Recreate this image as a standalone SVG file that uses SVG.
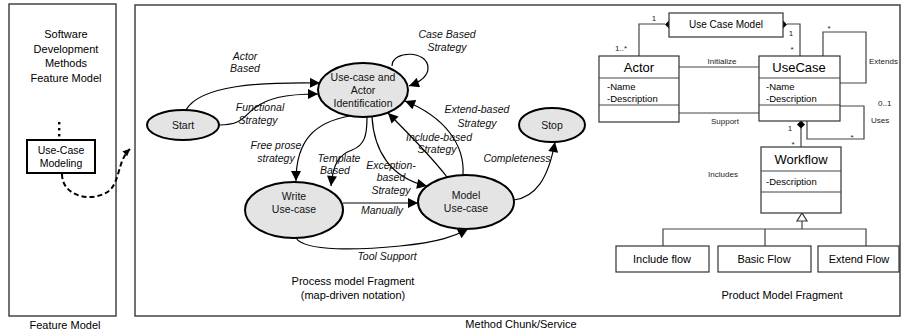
<svg xmlns="http://www.w3.org/2000/svg" width="902" height="333" viewBox="0 0 902 333">
<defs>
<style>
.t{font-family:"Liberation Sans",Arial,sans-serif;fill:#000}
.lbl{font-family:"Liberation Sans",Arial,sans-serif;font-style:italic;font-size:10.5px;fill:#111;text-anchor:middle}
.st{font-family:"Liberation Sans",Arial,sans-serif;font-size:10.5px;fill:#111;text-anchor:middle}
.ell{fill:#e4e4e4;stroke:#000;stroke-width:2}
.con{fill:none;stroke:#000;stroke-width:1.2}
.uml{fill:#fff;stroke:#333;stroke-width:1.2}
.ul{fill:none;stroke:#444;stroke-width:1.2}
.nm{font-family:"Liberation Sans",Arial,sans-serif;font-size:13px;text-anchor:middle;fill:#000}
.at{font-family:"Liberation Sans",Arial,sans-serif;font-size:9.5px;fill:#000}
.sm{font-family:"Liberation Sans",Arial,sans-serif;font-size:8px;fill:#222}
.cap{font-family:"Liberation Sans",Arial,sans-serif;font-size:11px;fill:#000;text-anchor:middle}
</style>
<marker id="arr" viewBox="0 0 10 10" refX="10" refY="5" markerWidth="11" markerHeight="10" orient="auto" markerUnits="userSpaceOnUse"><path d="M0,0 L10,5 L0,10 z" fill="#000"/></marker>
<marker id="arrs" viewBox="0 0 10 10" refX="10" refY="5" markerWidth="8" markerHeight="7" orient="auto" markerUnits="userSpaceOnUse"><path d="M0,0 L10,5 L0,10 z" fill="#000"/></marker>
</defs>
<rect width="902" height="333" fill="#fff"/>

<g id="feature-panel">
<rect x="9" y="4" width="107" height="312" fill="none" stroke="#444" stroke-width="1.5"/>
<text class="cap" x="66" y="38">Software</text>
<text class="cap" x="66" y="53">Development</text>
<text class="cap" x="66" y="67">Methods</text>
<text class="cap" x="66" y="82">Feature Model</text>
<rect x="58" y="122" width="2.4" height="2.4" fill="#000"/>
<rect x="58" y="128" width="2.4" height="2.4" fill="#000"/>
<rect x="58" y="134" width="2.4" height="2.4" fill="#000"/>
<text class="cap" x="65" y="329">Feature Model</text>
</g>
<g id="use-case-modeling">
<rect x="27" y="140" width="68" height="33" fill="#fff" stroke="#000" stroke-width="2"/>
<text class="t" x="61" y="154" font-size="10.5" text-anchor="middle">Use-Case</text>
<text class="t" x="61" y="167" font-size="10.5" text-anchor="middle">Modeling</text>
</g>

<g id="main-panel">
<rect x="135" y="5" width="765" height="311" fill="none" stroke="#444" stroke-width="1.5"/>
<text class="cap" x="521" y="328">Method Chunk/Service</text>
<text class="cap" x="353" y="285">Process model Fragment</text>
<text class="cap" x="353" y="299">(map-driven notation)</text>
<text class="cap" x="782" y="299">Product Model Fragment</text>
</g>

<g id="connectors">
<path d="M62,174 C62,198 95,203 110,190 C120,180 118,160 130,149" fill="none" stroke="#000" stroke-width="2" stroke-dasharray="5,3" marker-end="url(#arrs)"/>
<path class="con" d="M186,110 C200,85 260,82 320,83" marker-end="url(#arr)"/>
<path class="con" d="M219,125 C240,125 243,118 252,110 C266,98 285,94 318,94" marker-end="url(#arr)"/>
<path class="con" d="M392,66 C392,50 428,50 428,68 C428,76 420,82 409,86" marker-end="url(#arr)"/>
<path class="con" d="M350,116 C315,122 296,140 296,181" marker-end="url(#arr)"/>
<path class="con" d="M367,117 C367,135 365,145 352,150 C338,155 333,165 331,186" marker-end="url(#arr)"/>
<path class="con" d="M372,117 C374,150 390,178 427,186" marker-end="url(#arr)"/>
<path class="con" d="M447,177 C430,155 405,130 388,113" marker-end="url(#arr)"/>
<path class="con" d="M463,175 C465,145 445,117 405,101" marker-end="url(#arr)"/>
<path class="con" d="M343,203 L418,203" marker-end="url(#arr)"/>
<path class="con" d="M296,238 C305,252 360,250 400,246 C440,242 455,236 468,229" marker-end="url(#arr)"/>
<path class="con" d="M514,200 C535,197 548,180 555,142" marker-end="url(#arr)"/>

<text class="lbl" x="245" y="60">Actor</text>
<text class="lbl" x="245" y="72">Based</text>
<text class="lbl" x="260" y="111">Functional</text>
<text class="lbl" x="258" y="124">Strategy</text>
<text class="lbl" x="447" y="38">Case Based</text>
<text class="lbl" x="447" y="51">Strategy</text>
<text class="lbl" x="276" y="149">Free prose</text>
<text class="lbl" x="276" y="162">strategy</text>
<text class="lbl" x="339" y="162">Template</text>
<text class="lbl" x="335" y="174">Based</text>
<text class="lbl" x="391" y="169">Exception-</text>
<text class="lbl" x="391" y="181">based</text>
<text class="lbl" x="391" y="194">Strategy</text>
<text class="lbl" x="439" y="141">Include-based</text>
<text class="lbl" x="437" y="153">Strategy</text>
<text class="lbl" x="477" y="113">Extend-based</text>
<text class="lbl" x="477" y="127">Strategy</text>
<text class="lbl" x="517" y="162">Completeness</text>
<text class="lbl" x="382" y="214">Manually</text>
<text class="lbl" x="387" y="260">Tool Support</text>

<path class="ul" d="M665,24 H639 V56"/>
<path class="ul" d="M787,24 H800 V56"/>
<path d="M665,24.5 L669,20.5 L673,24.5 L669,28.5 z" fill="#000"/>
<path d="M779,24.5 L783,20.5 L787,24.5 L783,28.5 z" fill="#000"/>
<path class="ul" d="M823,56 V32 H866 V83 H840"/>
<path class="ul" d="M840,106 H864 V139 H807 V121"/>
<path class="ul" d="M801,128 V147"/>
<path d="M797,124.5 L801,120.5 L805,124.5 L801,128.5 z" fill="#000"/>
<path class="ul" d="M679,67 H759"/>
<path class="ul" d="M679,113 H759"/>
<path d="M802,213 L797,221 L807,221 z" fill="#fff" stroke="#333" stroke-width="1.2"/>
<path class="ul" d="M802,221 V229 M663,246 V229 H866 V246 M765,229 V246"/>

<text class="sm" x="654" y="21" text-anchor="middle">1</text>
<text class="sm" x="621" y="51" text-anchor="middle">1..*</text>
<text class="sm" x="791" y="36" text-anchor="middle">1</text>
<text class="sm" x="792" y="52" text-anchor="middle">*</text>
<text class="sm" x="829" y="31" text-anchor="middle">*</text>
<text class="sm" x="869" y="64" font-size="7.5">Extends</text>
<text class="sm" x="878" y="106">0..1</text>
<text class="sm" x="871" y="123">Uses</text>
<text class="sm" x="852" y="140" text-anchor="middle">*</text>
<text class="sm" x="790" y="131" text-anchor="middle">1</text>
<text class="sm" x="793" y="147" text-anchor="middle">*</text>
<text class="sm" x="722" y="64" text-anchor="middle">Initialize</text>
<text class="sm" x="725" y="124" text-anchor="middle">Support</text>
<text class="sm" x="723" y="177" text-anchor="middle">Includes</text>
</g>

<g id="start"><ellipse class="ell" cx="183" cy="125" rx="36" ry="15"/><text class="st" x="183" y="129" font-size="11.5">Start</text></g>
<g id="identification"><ellipse class="ell" cx="363" cy="90" rx="45" ry="27"/>
<text class="st" x="363" y="81">Use-case and</text><text class="st" x="363" y="94">Actor</text><text class="st" x="363" y="107">Identification</text></g>
<g id="write"><ellipse class="ell" cx="294" cy="210" rx="49" ry="28"/>
<text class="st" x="294" y="200">Write</text><text class="st" x="294" y="213">Use-case</text></g>
<g id="model"><ellipse class="ell" cx="466" cy="202" rx="48" ry="27"/>
<text class="st" x="466" y="199">Model</text><text class="st" x="466" y="212">Use-case</text></g>
<g id="stop"><ellipse class="ell" cx="552" cy="125" rx="33" ry="17"/><text class="st" x="552" y="129" font-size="11.5">Stop</text></g>

<g id="use-case-model"><rect class="uml" x="669" y="13" width="114" height="24"/><text class="t" x="726" y="28" font-size="10" text-anchor="middle">Use Case Model</text></g>
<g id="actor"><rect class="uml" x="599" y="56" width="80" height="66"/><path class="ul" d="M599,78 H679 M599,105 H679"/>
<text class="nm" x="639" y="72">Actor</text><text class="at" x="607" y="90">-Name</text><text class="at" x="607" y="102">-Description</text></g>
<g id="usecase"><rect class="uml" x="759" y="56" width="81" height="65"/><path class="ul" d="M759,78 H840 M759,105 H840"/>
<text class="nm" x="799" y="72">UseCase</text><text class="at" x="766" y="90">-Name</text><text class="at" x="766" y="102">-Description</text></g>
<g id="workflow"><rect class="uml" x="761" y="147" width="80" height="66"/><path class="ul" d="M761,171 H841 M761,192 H841"/>
<text class="nm" x="801" y="164">Workflow</text><text class="at" x="766" y="185">-Description</text></g>
<g id="include-flow"><rect class="uml" x="616" y="246" width="93" height="26"/><text class="t" x="662" y="263" font-size="11" text-anchor="middle">Include flow</text></g>
<g id="basic-flow"><rect class="uml" x="718" y="246" width="93" height="26"/><text class="t" x="764" y="263" font-size="11" text-anchor="middle">Basic Flow</text></g>
<g id="extend-flow"><rect class="uml" x="818" y="246" width="81" height="26"/><text class="t" x="859" y="263" font-size="11" text-anchor="middle">Extend Flow</text></g>
</svg>
